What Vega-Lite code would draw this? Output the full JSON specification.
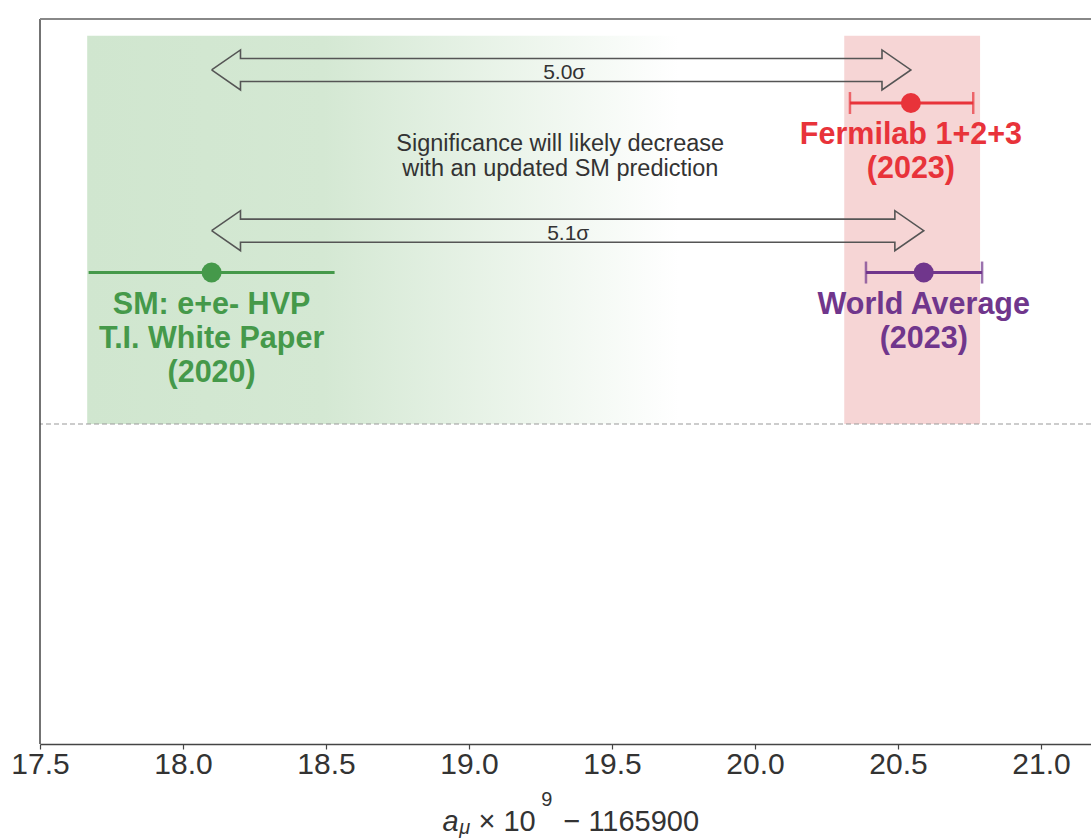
{
  "$schema": "https://vega.github.io/schema/vega-lite/v6.json",
  "width": 1051,
  "height": 725,
  "autosize": {"type": "none"},
  "padding": {"left": 40, "top": 19, "right": 0, "bottom": 96},
  "background": "white",
  "config": {
    "view": {"stroke": null},
    "font": "Liberation Sans",
    "axisX": {
      "grid": false,
      "domainColor": "#444444",
      "domainWidth": 1.5,
      "tickColor": "#444444",
      "tickSize": 5,
      "tickWidth": 1.2,
      "labelFontSize": 30,
      "labelColor": "#333333",
      "labelFont": "Liberation Sans",
      "labelPadding": 0,
      "labelFlush": false,
      "labelBound": false,
      "labelOverlap": false
    }
  },
  "data": {"values": [{}]},
  "datasets": {
    "measurements": [
      {"name": "SM", "value": 18.10, "lo": 17.67, "hi": 18.53, "row": 6.503, "label": "SM: e+e- HVP\nT.I. White Paper\n(2020)"},
      {"name": "Fermilab", "value": 20.545, "lo": 20.332, "hi": 20.763, "row": 8.841, "label": "Fermilab 1+2+3\n(2023)"},
      {"name": "WA", "value": 20.59, "lo": 20.388, "hi": 20.794, "row": 6.503, "label": "World Average\n(2023)"}
    ],
    "arrows": [
      {"arrow": "fnal", "i": 1, "x": 18.10, "y": 9.297},
      {"arrow": "fnal", "i": 2, "x": 18.201, "y": 9.573},
      {"arrow": "fnal", "i": 3, "x": 18.201, "y": 9.456},
      {"arrow": "fnal", "i": 4, "x": 20.444, "y": 9.456},
      {"arrow": "fnal", "i": 5, "x": 20.444, "y": 9.573},
      {"arrow": "fnal", "i": 6, "x": 20.545, "y": 9.297},
      {"arrow": "fnal", "i": 7, "x": 20.444, "y": 9.021},
      {"arrow": "fnal", "i": 8, "x": 20.444, "y": 9.138},
      {"arrow": "fnal", "i": 9, "x": 18.201, "y": 9.138},
      {"arrow": "fnal", "i": 10, "x": 18.201, "y": 9.021},
      {"arrow": "fnal", "i": 11, "x": 18.10, "y": 9.297},
      {"arrow": "wa", "i": 1, "x": 18.10, "y": 7.080},
      {"arrow": "wa", "i": 2, "x": 18.201, "y": 7.356},
      {"arrow": "wa", "i": 3, "x": 18.201, "y": 7.239},
      {"arrow": "wa", "i": 4, "x": 20.489, "y": 7.239},
      {"arrow": "wa", "i": 5, "x": 20.489, "y": 7.356},
      {"arrow": "wa", "i": 6, "x": 20.59, "y": 7.080},
      {"arrow": "wa", "i": 7, "x": 20.489, "y": 6.804},
      {"arrow": "wa", "i": 8, "x": 20.489, "y": 6.921},
      {"arrow": "wa", "i": 9, "x": 18.201, "y": 6.921},
      {"arrow": "wa", "i": 10, "x": 18.201, "y": 6.804},
      {"arrow": "wa", "i": 11, "x": 18.10, "y": 7.080}
    ],
    "tensions": [
      {"label": "5.0σ", "x": 19.333, "y": 9.172},
      {"label": "5.1σ", "x": 19.347, "y": 6.952}
    ]
  },
  "layer": [
    {
      "data": {"values": [{"x0": 17.665, "x1": 19.735, "y0": 4.414, "y1": 9.77}]},
      "mark": {
        "type": "rect",
        "fill": {
          "gradient": "linear",
          "x1": 0, "y1": 0, "x2": 1, "y2": 0,
          "stops": [
            {"offset": 0, "color": "#d0e6cf"},
            {"offset": 0.4, "color": "#d4e8d3"},
            {"offset": 1, "color": "#ffffff"}
          ]
        }
      },
      "encoding": {
        "x": {"field": "x0", "type": "quantitative", "scale": {"domain": [17.5, 21.1748], "nice": false, "zero": false}, "axis": {"values": [17.5, 18, 18.5, 19, 19.5, 20, 20.5, 21], "format": ".1f", "title": null}},
        "x2": {"field": "x1"},
        "y": {"field": "y0", "type": "quantitative", "scale": {"domain": [0, 10], "nice": false, "zero": false}, "axis": null},
        "y2": {"field": "y1"}
      }
    },
    {
      "data": {"values": [{"x0": 20.312, "x1": 20.787, "y0": 4.414, "y1": 9.77}]},
      "mark": {"type": "rect", "fill": "#f6d5d5"},
      "encoding": {
        "x": {"field": "x0", "type": "quantitative", "scale": {"domain": [17.5, 21.1748], "nice": false, "zero": false}, "axis": {"values": [17.5, 18, 18.5, 19, 19.5, 20, 20.5, 21], "format": ".1f", "title": null}},
        "x2": {"field": "x1"},
        "y": {"field": "y0", "type": "quantitative", "scale": {"domain": [0, 10], "nice": false, "zero": false}, "axis": null},
        "y2": {"field": "y1"}
      }
    },
    {
      "mark": {"type": "rule", "color": "#999999", "strokeWidth": 1.2, "strokeDash": [5, 3]},
      "encoding": {
        "y": {"datum": 4.414, "type": "quantitative", "scale": {"domain": [0, 10], "nice": false, "zero": false}, "axis": null}
      }
    },
    {
      "mark": {"type": "rule", "color": "#444444", "strokeWidth": 1.5},
      "encoding": {
        "x": {"datum": 17.5, "type": "quantitative", "scale": {"domain": [17.5, 21.1748], "nice": false, "zero": false}, "axis": {"values": [17.5, 18, 18.5, 19, 19.5, 20, 20.5, 21], "format": ".1f", "title": null}}
      }
    },
    {
      "mark": {"type": "rule", "color": "#888888", "strokeWidth": 2},
      "encoding": {
        "y": {"datum": 10, "type": "quantitative", "scale": {"domain": [0, 10], "nice": false, "zero": false}, "axis": null}
      }
    },
    {
      "data": {"name": "arrows"},
      "mark": {"type": "line", "color": "#555555", "strokeWidth": 1.6, "strokeJoin": "miter", "interpolate": "linear"},
      "encoding": {
        "x": {"field": "x", "type": "quantitative", "scale": {"domain": [17.5, 21.1748], "nice": false, "zero": false}, "axis": {"values": [17.5, 18, 18.5, 19, 19.5, 20, 20.5, 21], "format": ".1f", "title": null}},
        "y": {"field": "y", "type": "quantitative", "scale": {"domain": [0, 10], "nice": false, "zero": false}, "axis": null},
        "order": {"field": "i", "type": "quantitative"},
        "detail": {"field": "arrow", "type": "nominal"}
      }
    },
    {
      "data": {"name": "tensions"},
      "mark": {"type": "text", "fontSize": 21, "color": "#333333", "align": "center", "baseline": "alphabetic"},
      "encoding": {
        "x": {"field": "x", "type": "quantitative", "scale": {"domain": [17.5, 21.1748], "nice": false, "zero": false}, "axis": {"values": [17.5, 18, 18.5, 19, 19.5, 20, 20.5, 21], "format": ".1f", "title": null}},
        "y": {"field": "y", "type": "quantitative", "scale": {"domain": [0, 10], "nice": false, "zero": false}, "axis": null},
        "text": {"field": "label"}
      }
    },
    {
      "mark": {"type": "text", "text": "Significance will likely decrease\nwith an updated SM prediction", "lineBreak": "\n", "lineHeight": 25, "fontSize": 23.5, "color": "#333333", "align": "center", "baseline": "alphabetic"},
      "encoding": {
        "x": {"datum": 19.319, "type": "quantitative", "scale": {"domain": [17.5, 21.1748], "nice": false, "zero": false}, "axis": {"values": [17.5, 18, 18.5, 19, 19.5, 20, 20.5, 21], "format": ".1f", "title": null}},
        "y": {"datum": 8.179, "type": "quantitative", "scale": {"domain": [0, 10], "nice": false, "zero": false}, "axis": null}
      }
    },
    {
      "data": {"name": "measurements"},
      "mark": {"type": "rule", "strokeWidth": 3},
      "encoding": {
        "x": {"field": "lo", "type": "quantitative", "scale": {"domain": [17.5, 21.1748], "nice": false, "zero": false}, "axis": {"values": [17.5, 18, 18.5, 19, 19.5, 20, 20.5, 21], "format": ".1f", "title": null}},
        "x2": {"field": "hi"},
        "y": {"field": "row", "type": "quantitative", "scale": {"domain": [0, 10], "nice": false, "zero": false}, "axis": null},
        "color": {"field": "name", "type": "nominal", "scale": {"domain": ["SM", "Fermilab", "WA"], "range": ["#45994a", "#e8333a", "#70368c"]}, "legend": null}
      }
    },
    {
      "data": {"name": "measurements"},
      "transform": [
        {"filter": "datum.name !== 'SM'"},
        {"fold": ["lo", "hi"], "as": ["end", "pos"]}
      ],
      "mark": {"type": "tick", "orient": "vertical", "size": 22, "thickness": 2.5},
      "encoding": {
        "x": {"field": "pos", "type": "quantitative", "scale": {"domain": [17.5, 21.1748], "nice": false, "zero": false}, "axis": {"values": [17.5, 18, 18.5, 19, 19.5, 20, 20.5, 21], "format": ".1f", "title": null}},
        "y": {"field": "row", "type": "quantitative", "scale": {"domain": [0, 10], "nice": false, "zero": false}, "axis": null},
        "color": {"field": "name", "type": "nominal", "scale": {"domain": ["SM", "Fermilab", "WA"], "range": ["#45994a", "#e8333a", "#70368c"]}, "legend": null}
      }
    },
    {
      "data": {"name": "measurements"},
      "mark": {"type": "point", "shape": "circle", "filled": true, "opacity": 1, "size": 400},
      "encoding": {
        "x": {"field": "value", "type": "quantitative", "scale": {"domain": [17.5, 21.1748], "nice": false, "zero": false}, "axis": {"values": [17.5, 18, 18.5, 19, 19.5, 20, 20.5, 21], "format": ".1f", "title": null}},
        "y": {"field": "row", "type": "quantitative", "scale": {"domain": [0, 10], "nice": false, "zero": false}, "axis": null},
        "color": {"field": "name", "type": "nominal", "scale": {"domain": ["SM", "Fermilab", "WA"], "range": ["#45994a", "#e8333a", "#70368c"]}, "legend": null}
      }
    },
    {
      "data": {"name": "measurements"},
      "mark": {"type": "text", "fontSize": 30.5, "fontWeight": "bold", "align": "center", "baseline": "alphabetic", "dy": 41, "lineBreak": "\n", "lineHeight": 34},
      "encoding": {
        "x": {"field": "value", "type": "quantitative", "scale": {"domain": [17.5, 21.1748], "nice": false, "zero": false}, "axis": {"values": [17.5, 18, 18.5, 19, 19.5, 20, 20.5, 21], "format": ".1f", "title": null}},
        "y": {"field": "row", "type": "quantitative", "scale": {"domain": [0, 10], "nice": false, "zero": false}, "axis": null},
        "text": {"field": "label"},
        "color": {"field": "name", "type": "nominal", "scale": {"domain": ["SM", "Fermilab", "WA"], "range": ["#45994a", "#e8333a", "#70368c"]}, "legend": null}
      }
    },
    {
      "mark": {"type": "text", "text": "a", "fontSize": 29, "fontStyle": "italic", "color": "#333333", "align": "left", "baseline": "alphabetic"},
      "encoding": {
        "x": {"datum": 18.907, "type": "quantitative", "scale": {"domain": [17.5, 21.1748], "nice": false, "zero": false}, "axis": {"values": [17.5, 18, 18.5, 19, 19.5, 20, 20.5, 21], "format": ".1f", "title": null}},
        "y": {"datum": -1.2, "type": "quantitative", "scale": {"domain": [0, 10], "nice": false, "zero": false}, "axis": null}
      }
    },
    {
      "mark": {"type": "text", "text": "μ", "fontSize": 20, "fontStyle": "italic", "color": "#333333", "align": "left", "baseline": "alphabetic"},
      "encoding": {
        "x": {"datum": 18.966, "type": "quantitative", "scale": {"domain": [17.5, 21.1748], "nice": false, "zero": false}, "axis": {"values": [17.5, 18, 18.5, 19, 19.5, 20, 20.5, 21], "format": ".1f", "title": null}},
        "y": {"datum": -1.241, "type": "quantitative", "scale": {"domain": [0, 10], "nice": false, "zero": false}, "axis": null}
      }
    },
    {
      "mark": {"type": "text", "text": "× 10", "fontSize": 29, "color": "#333333", "align": "left", "baseline": "alphabetic"},
      "encoding": {
        "x": {"datum": 19.033, "type": "quantitative", "scale": {"domain": [17.5, 21.1748], "nice": false, "zero": false}, "axis": {"values": [17.5, 18, 18.5, 19, 19.5, 20, 20.5, 21], "format": ".1f", "title": null}},
        "y": {"datum": -1.2, "type": "quantitative", "scale": {"domain": [0, 10], "nice": false, "zero": false}, "axis": null}
      }
    },
    {
      "mark": {"type": "text", "text": "9", "fontSize": 20, "color": "#333333", "align": "left", "baseline": "alphabetic"},
      "encoding": {
        "x": {"datum": 19.253, "type": "quantitative", "scale": {"domain": [17.5, 21.1748], "nice": false, "zero": false}, "axis": {"values": [17.5, 18, 18.5, 19, 19.5, 20, 20.5, 21], "format": ".1f", "title": null}},
        "y": {"datum": -0.855, "type": "quantitative", "scale": {"domain": [0, 10], "nice": false, "zero": false}, "axis": null}
      }
    },
    {
      "mark": {"type": "text", "text": "− 1165900", "fontSize": 29, "color": "#333333", "align": "left", "baseline": "alphabetic"},
      "encoding": {
        "x": {"datum": 19.33, "type": "quantitative", "scale": {"domain": [17.5, 21.1748], "nice": false, "zero": false}, "axis": {"values": [17.5, 18, 18.5, 19, 19.5, 20, 20.5, 21], "format": ".1f", "title": null}},
        "y": {"datum": -1.2, "type": "quantitative", "scale": {"domain": [0, 10], "nice": false, "zero": false}, "axis": null}
      }
    }
  ]
}
